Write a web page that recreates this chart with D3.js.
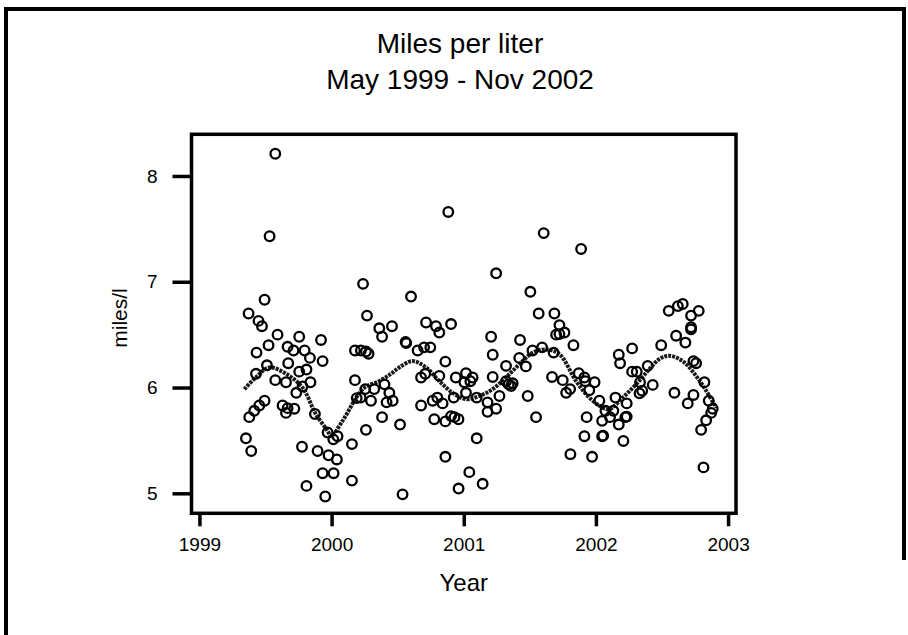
<!DOCTYPE html>
<html>
<head>
<meta charset="utf-8">
<script src="https://cdn.jsdelivr.net/npm/d3@7"></script>
<style>
  html, body { margin: 0; padding: 0; background: #fff; }
</style>
</head>
<body>
<div id="chart"></div>
<script>
const FONT = "'Liberation Sans', Arial, sans-serif";
const COLOR_INK = "#000000";
const COLOR_SMOOTH = "#1a1a1a";

// fill-up dates (decimal years) and miles per liter
const dates = [
  1999.352, 1999.372, 1999.377, 1999.392, 1999.415, 1999.428, 1999.432, 1999.447, 1999.453, 1999.473,
  1999.493, 1999.493, 1999.511, 1999.523, 1999.531, 1999.574, 1999.574, 1999.591, 1999.629, 1999.655,
  1999.655, 1999.667, 1999.667, 1999.672, 1999.712, 1999.718, 1999.733, 1999.755, 1999.755, 1999.776,
  1999.780, 1999.796, 1999.810, 1999.810, 1999.836, 1999.840, 1999.874, 1999.894, 1999.920, 1999.932,
  1999.932, 1999.952, 1999.970, 1999.977, 2000.013, 2000.015, 2000.040, 2000.045, 2000.154, 2000.154,
  2000.177, 2000.177, 2000.190, 2000.220, 2000.222, 2000.238, 2000.255, 2000.260, 2000.260, 2000.268,
  2000.280, 2000.298, 2000.323, 2000.361, 2000.382, 2000.382, 2000.400, 2000.416, 2000.437, 2000.457,
  2000.462, 2000.518, 2000.537, 2000.560, 2000.565, 2000.601, 2000.651, 2000.677, 2000.677, 2000.700,
  2000.709, 2000.715, 2000.747, 2000.765, 2000.777, 2000.790, 2000.800, 2000.815, 2000.815, 2000.840,
  2000.861, 2000.861, 2000.861, 2000.883, 2000.904, 2000.904, 2000.924, 2000.930, 2000.940, 2000.960,
  2000.961, 2001.005, 2001.017, 2001.017, 2001.042, 2001.050, 2001.067, 2001.098, 2001.098, 2001.143,
  2001.180, 2001.180, 2001.207, 2001.219, 2001.219, 2001.245, 2001.245, 2001.270, 2001.320, 2001.320,
  2001.340, 2001.358, 2001.370, 2001.420, 2001.426, 2001.470, 2001.484, 2001.504, 2001.520, 2001.547,
  2001.567, 2001.593, 2001.605, 2001.668, 2001.680, 2001.686, 2001.699, 2001.724, 2001.724, 2001.749,
  2001.762, 2001.775, 2001.805, 2001.807, 2001.830, 2001.870, 2001.888, 2001.913, 2001.913, 2001.920,
  2001.930, 2001.950, 2001.971, 2001.990, 2002.026, 2002.047, 2002.047, 2002.055, 2002.072, 2002.107,
  2002.132, 2002.148, 2002.173, 2002.173, 2002.183, 2002.208, 2002.223, 2002.233, 2002.233, 2002.274,
  2002.274, 2002.309, 2002.330, 2002.334, 2002.350, 2002.392, 2002.430, 2002.494, 2002.551, 2002.594,
  2002.607, 2002.620, 2002.657, 2002.677, 2002.695, 2002.720, 2002.720, 2002.720, 2002.738, 2002.738,
  2002.758, 2002.778, 2002.796, 2002.814, 2002.821, 2002.834, 2002.854, 2002.872, 2002.884
];
const milesPerLiter = [
  5.52, 6.70, 5.72, 5.40, 5.78, 6.13, 6.33, 6.63, 5.83, 6.58,
  6.83, 5.875, 6.21, 6.40, 7.43, 8.21, 6.07, 6.50, 5.83, 6.05,
  5.76, 6.385, 5.805, 6.23, 6.35, 5.80, 5.95, 6.48, 6.15, 5.44,
  6.01, 6.35, 6.17, 5.07, 6.28, 6.05, 5.75, 5.40, 6.45, 6.25,
  5.19, 4.97, 5.575, 5.36, 5.51, 5.19, 5.32, 5.54, 5.465, 5.12,
  6.07, 6.35, 5.90, 5.905, 6.35, 6.98, 5.985, 5.60, 6.34, 6.68,
  6.32, 5.875, 5.985, 6.56, 6.48, 5.72, 6.03, 5.86, 5.95, 6.58,
  5.875, 5.65, 4.99, 6.43, 6.42, 6.86, 6.35, 6.095, 5.83, 6.38,
  6.13, 6.615, 6.38, 5.875, 5.70, 6.58, 5.905, 6.52, 6.11, 5.85,
  6.245, 5.68, 5.345, 7.66, 6.60, 5.73, 5.905, 5.72, 6.095, 5.70,
  5.045, 6.05, 6.135, 5.95, 5.20, 6.06, 6.095, 5.905, 5.52, 5.09,
  5.86, 5.77, 6.48, 6.31, 6.10, 7.08, 5.80, 5.92, 6.205, 6.06,
  6.03, 6.015, 6.04, 6.28, 6.45, 6.20, 5.92, 6.905, 6.35, 5.72,
  6.70, 6.38, 7.46, 6.10, 6.33, 6.70, 6.50, 6.59, 6.505, 6.07,
  6.52, 5.95, 5.985, 5.37, 6.40, 6.135, 7.31, 6.095, 5.54, 6.06,
  5.72, 5.975, 5.345, 6.05, 5.875, 5.685, 5.54, 5.545, 5.78, 5.72,
  5.78, 5.905, 6.31, 5.65, 6.23, 5.495, 5.72, 5.725, 5.85, 6.37,
  6.15, 6.15, 5.945, 6.05, 5.97, 6.205, 6.025, 6.40, 6.725, 5.95,
  6.49, 6.77, 6.79, 6.425, 5.85, 6.68, 6.57, 6.55, 6.25, 5.93,
  6.23, 6.725, 5.60, 5.245, 6.05, 5.69, 5.875, 5.76, 5.80
];

// smoothed trend
const smoothDates = [
  1999.34, 1999.43, 1999.528, 1999.655, 1999.78, 1999.88, 1999.97, 1999.995, 2000.083, 2000.185,
  2000.25, 2000.36, 2000.45, 2000.512, 2000.613, 2000.715, 2000.815, 2000.916, 2001.017, 2001.118,
  2001.219, 2001.32, 2001.421, 2001.522, 2001.623, 2001.724, 2001.85, 2001.95, 2002.05, 2002.102,
  2002.203, 2002.304, 2002.405, 2002.481, 2002.556, 2002.657, 2002.758, 2002.834, 2002.91
];
const smoothValues = [
  5.985, 6.10, 6.19, 6.13, 6.00, 5.75, 5.59, 5.54, 5.685, 5.90,
  6.00, 6.06, 6.13, 6.19, 6.25, 6.19, 6.06, 5.95, 5.89, 5.92,
  5.985, 6.095, 6.22, 6.33, 6.36, 6.315, 6.06, 5.905, 5.81, 5.795,
  5.905, 6.03, 6.175, 6.27, 6.30, 6.25, 6.11, 5.97, 5.81
];

const yearTicks = [1999, 2000, 2001, 2002, 2003];
const mplTicks = [5, 6, 7, 8];
const titleLines = ["Miles per liter", "May 1999 - Nov 2002"];

function drawChart() {
    /**
     * page frame, plot box, axes, points and smooth
     */
    let chartSize = { width: 908, height: 635 };
    let box = { left: 191.5, right: 736, top: 134.3, bottom: 513.3 };

    let svg = d3.select("#chart")
        .append("svg")
        .attr("width", chartSize.width)
        .attr("height", chartSize.height)
        .attr("font-family", FONT);

    // outer frame (left, top, right edge)
    let frame = svg.append("g").attr("class", "frame")
        .attr("stroke", COLOR_INK).attr("stroke-width", 4).attr("fill", "none");
    frame.append("path").attr("d", "M6,635 V9 H904 V560");

    // title
    svg.append("g").attr("class", "title")
        .selectAll("text").data(titleLines).enter().append("text")
        .attr("x", 460)
        .attr("y", (d, i) => 53 + i * 36)
        .attr("text-anchor", "middle")
        .attr("font-size", "28px")
        .attr("fill", COLOR_INK)
        .text(d => d);

    let x = d3.scaleLinear().domain([1998.94, 2003.06]).range([box.left, box.right]);
    let y = d3.scaleLinear().domain([4.811, 8.394]).range([box.bottom, box.top]);

    // x axis
    svg.append("g")
        .attr("class", "xAxis")
        .attr("transform", "translate(0," + box.bottom + ")")
        .call(d3.axisBottom(x).tickValues(yearTicks).tickFormat(d3.format("d")).tickSize(13).tickPadding(11))
        .call(g => {
            g.select(".domain").remove();
            g.attr("font-size", "19px").attr("font-family", FONT);
            g.selectAll(".tick line").attr("stroke", COLOR_INK).attr("stroke-width", 3.5);
            g.selectAll("text").attr("fill", COLOR_INK);
        });

    // y axis
    svg.append("g")
        .attr("class", "yAxis")
        .attr("transform", "translate(" + box.left + ",0)")
        .call(d3.axisLeft(y).tickValues(mplTicks).tickFormat(d3.format("d")).tickSize(19).tickPadding(15))
        .call(g => {
            g.select(".domain").remove();
            g.attr("font-size", "19px").attr("font-family", FONT);
            g.selectAll(".tick line").attr("stroke", COLOR_INK).attr("stroke-width", 3.5);
            g.selectAll("text").attr("fill", COLOR_INK);
        });

    // axis titles
    svg.append("text")
        .attr("x", (box.left + box.right) / 2)
        .attr("y", 591)
        .attr("text-anchor", "middle")
        .attr("font-size", "24px")
        .attr("fill", COLOR_INK)
        .text("Year");
    svg.append("text")
        .attr("transform", "translate(127,318) rotate(-90)")
        .attr("text-anchor", "middle")
        .attr("font-size", "21px")
        .attr("fill", COLOR_INK)
        .text("miles/l");

    // plot box
    svg.append("rect")
        .attr("x", box.left).attr("y", box.top)
        .attr("width", box.right - box.left).attr("height", box.bottom - box.top)
        .attr("fill", "none").attr("stroke", COLOR_INK).attr("stroke-width", 3.5);

    // smooth trend, drawn as a packed dotted line
    let smooth = d3.line()
        .x((d, i) => x(smoothDates[i]))
        .y(d => y(d))
        .curve(d3.curveCatmullRom);
    svg.append("path")
        .attr("d", smooth(smoothValues))
        .attr("fill", "none")
        .attr("stroke", COLOR_SMOOTH)
        .attr("stroke-width", 4)
        .attr("stroke-dasharray", "3,1");

    // observations
    svg.append("g").attr("class", "points")
        .selectAll("circle").data(milesPerLiter).enter().append("circle")
        .attr("cx", (d, i) => x(dates[i]))
        .attr("cy", d => y(d))
        .attr("r", 4.8)
        .attr("fill", "none")
        .attr("stroke", COLOR_INK)
        .attr("stroke-width", 2.3);
}

drawChart();
</script>
</body>
</html>
